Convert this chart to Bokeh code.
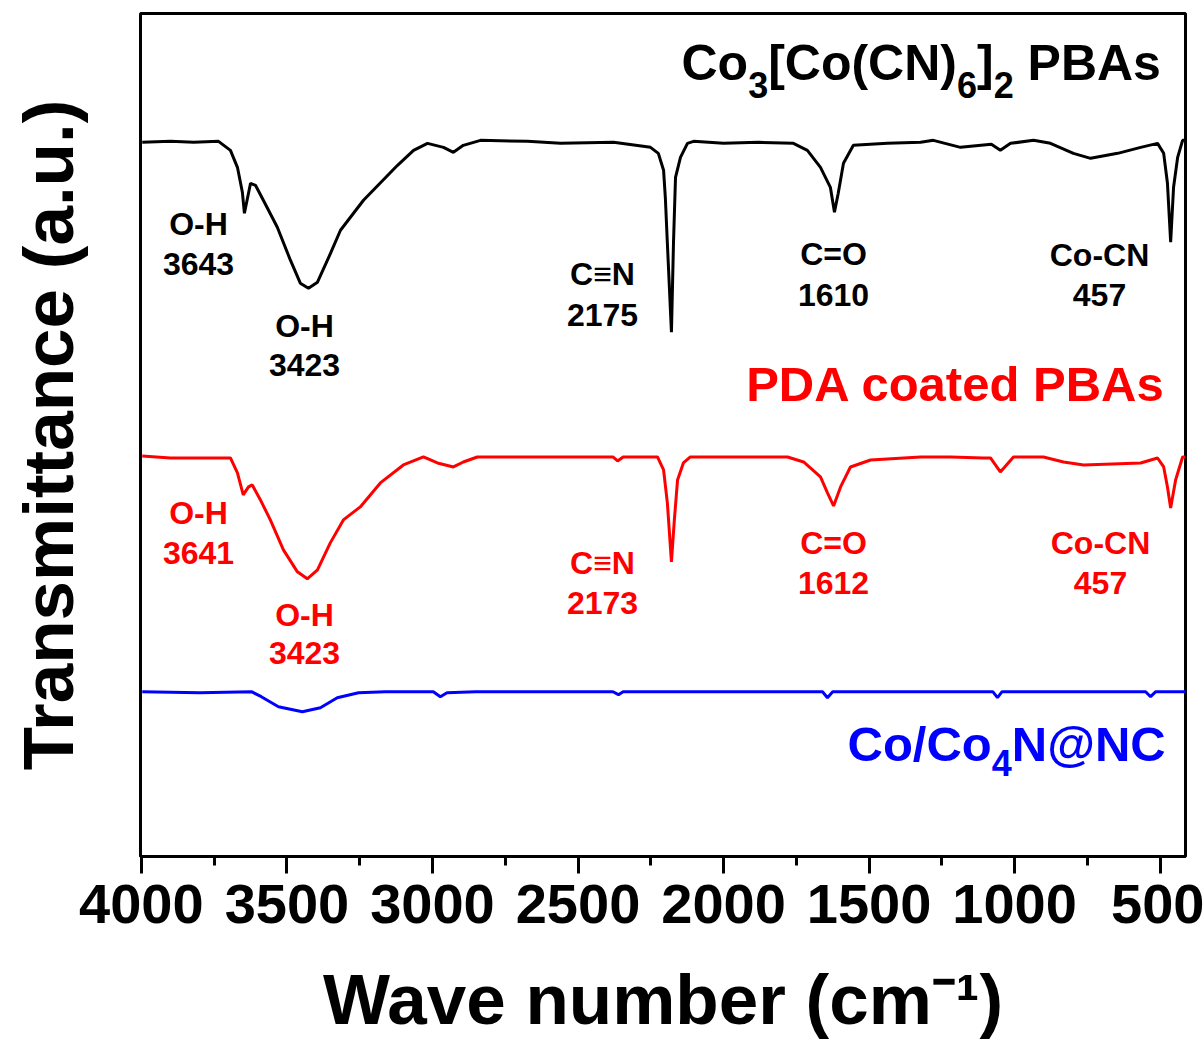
from bokeh.plotting import figure
from bokeh.models import Range1d, FixedTicker, Label, LinearAxis
from bokeh.core.properties import value
from bokeh.embed import file_html
from bokeh.resources import INLINE

# ---------------- data ----------------
# Co3[Co(CN)6]2 PBAs (black)
wn_pba = [3997, 3900, 3820, 3735, 3694, 3670, 3653, 3646, 3625, 3608,
          3581, 3533, 3488, 3454, 3426, 3395, 3350, 3316, 3237, 3120,
          3065, 3017, 2962, 2928, 2894, 2835, 2674, 2560, 2378, 2251,
          2224, 2206, 2200, 2193, 2179, 2172, 2165, 2148, 2124, 2103,
          2000, 1880, 1760, 1712, 1667, 1633, 1619, 1606, 1588, 1554,
          1437, 1323, 1279, 1186, 1080, 1049, 1014, 935, 877, 798,
          739, 646, 567, 509, 488, 475, 464, 454, 440, 423, 413]
t_pba = [715, 716, 715, 716, 707, 690, 665, 644, 674, 672,
         657, 630, 597, 574, 569, 575, 604, 627, 657, 692,
         707, 714, 710, 705, 712, 717, 716, 714, 715, 710,
         704, 687, 660, 614, 525, 614, 680, 700, 714, 716,
         714, 715, 714, 707, 690, 670, 645, 664, 694, 712,
         714, 715, 717, 710, 713, 707, 714, 717, 714, 704,
         699, 704, 710, 714, 704, 674, 615, 670, 700, 717, 717]

# PDA coated PBAs (red)
wn_pda = [3997, 3900, 3694, 3670, 3650, 3632, 3619, 3591, 3557, 3512,
          3464, 3430, 3395, 3351, 3306, 3248, 3179, 3100, 3031, 2983,
          2928, 2894, 2846, 2698, 2380, 2364, 2345, 2227, 2206, 2193,
          2179, 2169, 2158, 2138, 2114, 1780, 1725, 1667, 1643, 1622,
          1598, 1564, 1495, 1323, 1220, 1107, 1083, 1049, 1004, 901,
          832, 763, 567, 509, 488, 475, 464, 447, 423, 413]
t_pda = [401, 399, 399, 384, 362, 370, 372, 357, 337, 307,
         285, 278, 287, 314, 337, 350, 374, 392, 400, 394,
         390, 395, 400, 400, 400, 396, 400, 400, 387, 354,
         295, 337, 377, 394, 400, 400, 395, 380, 364, 351,
         370, 390, 397, 400, 400, 399, 399, 385, 400, 400,
         395, 392, 394, 399, 390, 370, 349, 377, 400, 400]

# Co/Co4N@NC (blue)
wn_nc = [3997, 3800, 3622, 3588, 3529, 3447, 3385, 3327, 3254, 3162,
         2997, 2973, 2950, 2852, 2380, 2361, 2345, 1660, 1643, 1625,
         1075, 1059, 1043, 550, 533, 515, 413]
t_nc = [165, 164, 165, 160, 150, 145, 149, 159, 164, 165,
        165, 160, 164, 165, 165, 162, 165, 165, 159, 165,
        165, 159, 165, 165, 160, 165, 165]

x_ticks = [4000, 3500, 3000, 2500, 2000, 1500, 1000, 500]
x_minor = [3750, 3250, 2750, 2250, 1750, 1250, 750]

peak_names = ["O-H", "O-H", "C\u2261N", "C=O", "Co-CN"]
peak_vals_pba = ["3643", "3423", "2175", "1610", "457"]
peak_vals_pda = ["3641", "3423", "2173", "1612", "457"]

x_title = "Wave number (cm\u207b\u00b9)"
y_title = "Transmittance (a.u.)"

# ---------------- layout helpers ----------------
FONT = "Liberation Sans"
FRAME_L, FRAME_R, FRAME_T, FRAME_B = 140, 1185, 13, 857
X_START, X_END = 4003, 413
BASE_FIX = 0.38   # raise text so its alphabetic baseline lands where wanted


def px2wn(px):
    return X_START + (px - FRAME_L) * (X_END - X_START) / (FRAME_R - FRAME_L)


def py2y(py, size=0):
    return FRAME_B - py + BASE_FIX * size


ADV = {' ': 278, '(': 333, ')': 333, '[': 333, ']': 333, '/': 278, '@': 975,
       '-': 333, '.': 278, '=': 584, 'A': 722, 'B': 722, 'C': 722, 'D': 722,
       'H': 722, 'N': 722, 'O': 778, 'P': 667, 'T': 611, 'W': 944, 'a': 556,
       'b': 611, 'c': 556, 'd': 611, 'e': 556, 'i': 278, 'm': 889, 'n': 611,
       'o': 611, 'r': 389, 's': 556, 't': 333, 'u': 611, 'v': 556}


def width(s, size):
    return sum(ADV.get(ch, 556) for ch in s) / 1000.0 * size


p = figure(width=1204, height=1041, output_backend="svg", toolbar_location=None,
           x_range=Range1d(X_START, X_END), y_range=Range1d(0, FRAME_B - FRAME_T),
           y_axis_location=None,
           min_border_left=FRAME_L, min_border_right=1204 - FRAME_R,
           min_border_top=FRAME_T, min_border_bottom=1041 - FRAME_B)
p.background_fill_color = "white"
p.border_fill_color = "white"
p.outline_line_color = "black"
p.outline_line_width = 3
p.xgrid.visible = False
p.ygrid.visible = False

ax = p.xaxis[0]
ax.ticker = FixedTicker(ticks=x_ticks, minor_ticks=x_minor)
ax.axis_line_width = 3
ax.axis_line_color = "black"
ax.major_tick_line_width = 3
ax.minor_tick_line_width = 3
ax.major_tick_in = 0
ax.major_tick_out = 17
ax.minor_tick_in = 0
ax.minor_tick_out = 9
ax.major_label_text_font = FONT
ax.major_label_text_font_size = "56px"
ax.major_label_text_font_style = "bold"
ax.major_label_text_color = "black"
ax.major_label_standoff = 11
ax.axis_label = x_title
ax.axis_label_text_font = FONT
ax.axis_label_text_font_size = "71px"
ax.axis_label_text_font_style = "bold"
ax.axis_label_text_color = "black"
ax.axis_label_standoff = 34

# tick-free left axis carrying the y title; its bounds set where the title is centred
yax = LinearAxis(ticker=FixedTicker(ticks=[]), bounds=(136, 814),
                 axis_line_color=None, major_tick_line_color=None,
                 minor_tick_line_color=None, major_tick_in=0, major_tick_out=0,
                 minor_tick_in=0, minor_tick_out=0, major_label_standoff=0,
                 axis_label=y_title, axis_label_standoff=53,
                 axis_label_text_font=FONT, axis_label_text_font_size="71px",
                 axis_label_text_font_style="bold", axis_label_text_color="black")
p.add_layout(yax, "left")

# spectra
p.line(wn_pba, t_pba, line_color="#000000", line_width=3)
p.line(wn_pda, t_pda, line_color="#FF0000", line_width=3)
p.line(wn_nc, t_nc, line_color="#0000FF", line_width=3)

# peak annotations
cx_pba = [198, 304, 602, 833, 1099]
name_py_pba = [236, 338, 286, 266, 267]
val_py_pba = [276, 377, 327, 307, 307]
cx_pda = [198, 304, 602, 833, 1100]
name_py_pda = [525, 627, 575, 555, 555]
val_py_pda = [565, 665, 615, 595, 595]


def peak_text(cx, ys, texts, color):
    p.text(x=[px2wn(c) for c in cx], y=[py2y(v, 32) for v in ys], text=texts,
           text_font=value(FONT), text_font_style="bold", text_font_size="32px",
           text_color=color, text_align="center", text_baseline="alphabetic")


peak_text(cx_pba, name_py_pba, peak_names, "#000000")
peak_text(cx_pba, val_py_pba, peak_vals_pba, "#000000")
peak_text(cx_pda, name_py_pda, peak_names, "#FF0000")
peak_text(cx_pda, val_py_pda, peak_vals_pda, "#FF0000")


def rich(pieces, px_left, py_base, color):
    x = px_left
    for txt, size, dy in pieces:
        lead = len(txt) - len(txt.lstrip(" "))
        x += width(" " * lead, size)
        body = txt.lstrip(" ")
        p.add_layout(Label(x=px2wn(x), y=py2y(py_base + dy, size), text=body,
                           text_font=FONT, text_font_size=f"{size}px",
                           text_font_style="bold", text_color=color,
                           text_align="left", text_baseline="alphabetic"))
        x += width(body, size)


# series names
rich([("Co", 50, 0), ("3", 36, 16), ("[Co(CN)", 50, 0), ("6", 36, 16),
      ("]", 50, 0), ("2", 36, 16), (" PBAs", 50, 0)], 681, 82, "#000000")
p.add_layout(Label(x=px2wn(1165), y=py2y(403, 49), text="PDA coated PBAs",
                   text_font=FONT, text_font_size="49px", text_font_style="bold",
                   text_color="#FF0000", text_align="right", text_baseline="alphabetic"))
rich([("Co/Co", 49, 0), ("4", 36, 14), ("N@NC", 49, 0)], 847, 763, "#0000FF")

open("out.html", "w").write(file_html(p, INLINE))
